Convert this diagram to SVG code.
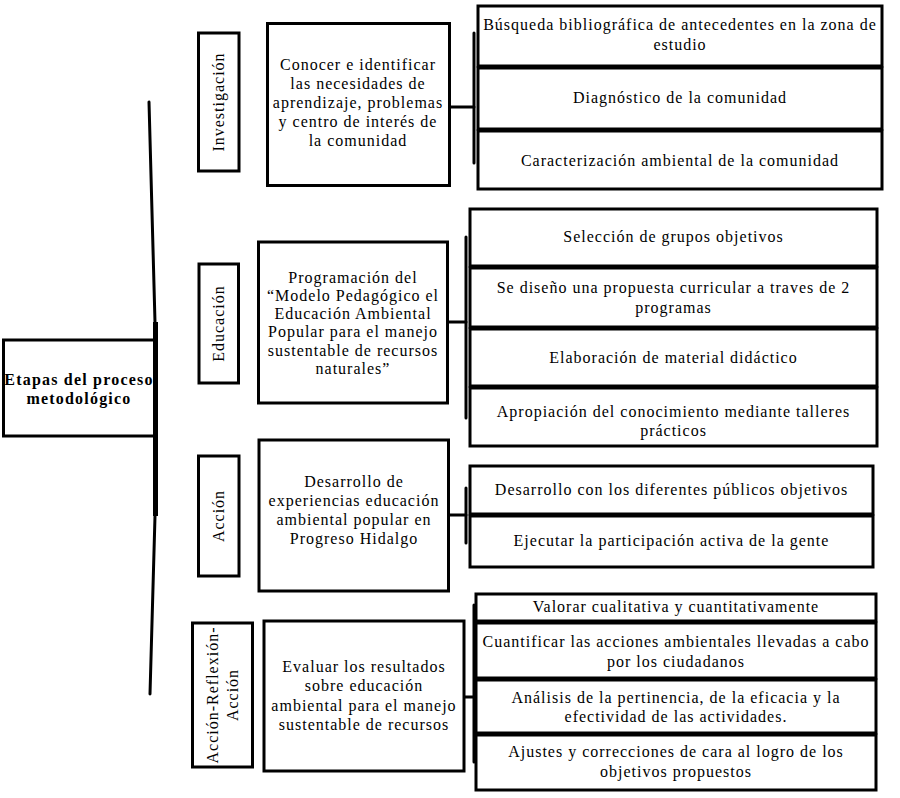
<svg xmlns="http://www.w3.org/2000/svg" width="900" height="798" viewBox="0 0 900 798">
<style>
  .box { fill: #ffffff; stroke: #000000; stroke-width: 3; }
  .t { font-family: "Liberation Serif", "Times New Roman", serif; font-size: 16px; letter-spacing: 1px; fill: #000000; text-anchor: middle; }
  .tb { font-family: "Liberation Serif", "Times New Roman", serif; font-size: 16px; font-weight: bold; letter-spacing: 1.2px; fill: #000000; text-anchor: middle; }
  .ln { fill: none; stroke: #000000; stroke-width: 3; stroke-linecap: round; }
</style>
<rect width="900" height="798" fill="#ffffff"/>

<g id="connectors">
  <polyline class="ln" points="149,102 155,322 155,516 150,694"/>
  <line x1="155.5" y1="322" x2="155.5" y2="516" stroke="#000" stroke-width="5"/>
  <line class="ln" x1="451" y1="107" x2="474" y2="107"/>
  <line class="ln" x1="474" y1="33" x2="474" y2="163"/>
  <line class="ln" x1="449" y1="322" x2="466" y2="322"/>
  <line class="ln" x1="466" y1="237" x2="466" y2="418"/>
  <line class="ln" x1="450" y1="515" x2="466" y2="515"/>
  <line class="ln" x1="466" y1="488" x2="466" y2="543"/>
  <line class="ln" x1="465" y1="697" x2="474" y2="697"/>
  <line class="ln" x1="474" y1="605" x2="474" y2="762"/>
</g>

<g id="main">
  <rect class="box" x="3.5" y="340" width="151" height="96"/>
  <text class="tb" x="79" y="385">Etapas del proceso</text>
  <text class="tb" x="79" y="404">metodológico</text>
</g>

<g id="investigacion-label">
  <rect class="box" x="198.5" y="33" width="40.5" height="138"/>
  <text class="t" transform="translate(218.5,102) rotate(-90)" dominant-baseline="central">Investigación</text>
</g>
<g id="investigacion-objetivo">
  <rect class="box" x="267.5" y="23.5" width="182" height="162"/>
  <text class="t" x="358" y="70">Conocer e identificar</text>
  <text class="t" x="358" y="89">las necesidades de</text>
  <text class="t" x="358" y="108">aprendizaje, problemas</text>
  <text class="t" x="358" y="127">y centro de interés de</text>
  <text class="t" x="358" y="146">la comunidad</text>
</g>
<g id="inv-1">
  <rect class="box" x="478" y="6" width="404" height="60"/>
  <text class="t" x="680" y="30">Búsqueda bibliográfica de antecedentes en la zona de</text>
  <text class="t" x="680" y="50">estudio</text>
</g>
<g id="inv-2">
  <rect class="box" x="478" y="68" width="404" height="61"/>
  <text class="t" x="680" y="103">Diagnóstico de la comunidad</text>
</g>
<g id="inv-3">
  <rect class="box" x="478" y="131" width="404" height="58"/>
  <text class="t" x="680" y="166">Caracterización ambiental de la comunidad</text>
</g>

<g id="educacion-label">
  <rect class="box" x="199" y="264" width="39.5" height="119"/>
  <text class="t" transform="translate(218.5,323.5) rotate(-90)" dominant-baseline="central">Educación</text>
</g>
<g id="educacion-objetivo">
  <rect class="box" x="258.5" y="242" width="189" height="161"/>
  <text class="t" x="353" y="283">Programación del</text>
  <text class="t" x="353" y="301">“Modelo Pedagógico el</text>
  <text class="t" x="353" y="319">Educación Ambiental</text>
  <text class="t" x="353" y="337">Popular para el manejo</text>
  <text class="t" x="353" y="356">sustentable de recursos</text>
  <text class="t" x="353" y="374">naturales”</text>
</g>
<g id="edu-1">
  <rect class="box" x="470" y="209" width="407" height="57"/>
  <text class="t" x="673.5" y="242">Selección de grupos objetivos</text>
</g>
<g id="edu-2">
  <rect class="box" x="470" y="268" width="407" height="59"/>
  <text class="t" x="673.5" y="293">Se diseño una propuesta curricular a traves de 2</text>
  <text class="t" x="673.5" y="313">programas</text>
</g>
<g id="edu-3">
  <rect class="box" x="470" y="329" width="407" height="57"/>
  <text class="t" x="673.5" y="363">Elaboración de material didáctico</text>
</g>
<g id="edu-4">
  <rect class="box" x="470" y="388" width="407" height="58"/>
  <text class="t" x="673.5" y="417">Apropiación del conocimiento mediante talleres</text>
  <text class="t" x="673.5" y="436">prácticos</text>
</g>

<g id="accion-label">
  <rect class="box" x="198.5" y="456" width="40.5" height="120"/>
  <text class="t" transform="translate(218.5,516) rotate(-90)" dominant-baseline="central">Acción</text>
</g>
<g id="accion-objetivo">
  <rect class="box" x="259" y="440" width="189.5" height="151"/>
  <text class="t" x="354" y="487">Desarrollo de</text>
  <text class="t" x="354" y="506">experiencias educación</text>
  <text class="t" x="354" y="525">ambiental popular en</text>
  <text class="t" x="354" y="544">Progreso Hidalgo</text>
</g>
<g id="acc-1">
  <rect class="box" x="470" y="466" width="403" height="48"/>
  <text class="t" x="671.5" y="495">Desarrollo con los diferentes públicos objetivos</text>
</g>
<g id="acc-2">
  <rect class="box" x="470" y="516" width="403" height="51"/>
  <text class="t" x="671.5" y="546">Ejecutar la participación activa de la gente</text>
</g>

<g id="ara-label">
  <rect class="box" x="192.5" y="623" width="60" height="144"/>
  <text class="t" transform="translate(212,695) rotate(-90)" dominant-baseline="central">Acción-Reflexión-</text>
  <text class="t" transform="translate(232,695) rotate(-90)" dominant-baseline="central">Acción</text>
</g>
<g id="ara-objetivo">
  <rect class="box" x="264" y="621" width="200" height="150"/>
  <text class="t" x="364" y="672">Evaluar los resultados</text>
  <text class="t" x="364" y="691">sobre educación</text>
  <text class="t" x="364" y="711">ambiental para el manejo</text>
  <text class="t" x="364" y="730">sustentable de recursos</text>
</g>
<g id="ara-1">
  <rect class="box" x="476" y="594" width="400" height="27"/>
  <text class="t" x="676" y="612">Valorar cualitativa y cuantitativamente</text>
</g>
<g id="ara-2">
  <rect class="box" x="476" y="623" width="400" height="55"/>
  <text class="t" x="676" y="647">Cuantificar las acciones ambientales llevadas a cabo</text>
  <text class="t" x="676" y="667">por los ciudadanos</text>
</g>
<g id="ara-3">
  <rect class="box" x="476" y="680" width="400" height="53"/>
  <text class="t" x="676" y="703">Análisis de la pertinencia, de la eficacia y la</text>
  <text class="t" x="676" y="722">efectividad de las actividades.</text>
</g>
<g id="ara-4">
  <rect class="box" x="476" y="735" width="400" height="55"/>
  <text class="t" x="676" y="757">Ajustes y correcciones de cara al logro de los</text>
  <text class="t" x="676" y="777">objetivos propuestos</text>
</g>
</svg>
